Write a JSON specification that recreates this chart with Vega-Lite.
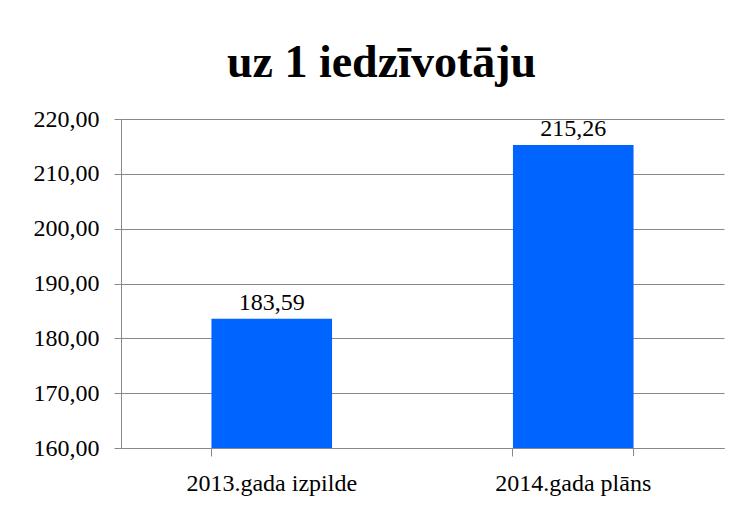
{
  "$schema": "https://vega.github.io/schema/vega-lite/v6.json",
  "autosize": "none",
  "width": 603,
  "height": 329,
  "padding": {"left": 121, "top": 119, "right": 17, "bottom": 57},
  "background": "white",
  "title": {
    "text": "uz 1 iedzīvotāju",
    "font": "Liberation Serif",
    "fontSize": 46,
    "fontWeight": "bold",
    "color": "black",
    "anchor": "middle",
    "frame": "group",
    "baseline": "alphabetic",
    "offset": -16,
    "dx": -41
  },
  "data": {
    "values": [
      {"kategorija": "2013.gada izpilde", "vertiba": 183.59},
      {"kategorija": "2014.gada plāns", "vertiba": 215.26}
    ]
  },
  "encoding": {
    "x": {
      "field": "kategorija",
      "type": "nominal",
      "sort": null,
      "scale": {"paddingInner": 0.6, "paddingOuter": 0.3},
      "axis": {
        "title": null,
        "labelAngle": 0,
        "bandPosition": 0,
        "ticks": true,
        "tickSize": 8,
        "tickColor": "#888888",
        "domainColor": "#888888",
        "labelFont": "Liberation Serif",
        "labelFontSize": 24,
        "labelColor": "black",
        "labelPadding": 34,
        "labelBaseline": "alphabetic",
        "grid": false
      }
    }
  },
  "layer": [
    {
      "mark": {"type": "bar", "color": "#0064FF"},
      "encoding": {
        "y": {
          "field": "vertiba",
          "type": "quantitative",
          "scale": {"domain": [160, 220], "zero": false, "nice": false},
          "axis": {
            "title": null,
            "values": [160, 170, 180, 190, 200, 210, 220],
            "format": ".2f",
            "grid": true,
            "gridColor": "#888888",
            "gridWidth": 1,
            "tickColor": "#888888",
            "tickSize": 7,
            "domainColor": "#888888",
            "labelFont": "Liberation Serif",
            "labelFontSize": 24,
            "labelColor": "black",
            "labelPadding": 15
          }
        },
        "y2": {"datum": 160}
      }
    },
    {
      "mark": {"type": "text", "font": "Liberation Serif", "fontSize": 24, "color": "black", "baseline": "alphabetic", "dy": -9},
      "encoding": {
        "y": {"field": "vertiba", "type": "quantitative"},
        "text": {"field": "vertiba", "type": "quantitative", "format": ".2f"}
      }
    },
    {
      "transform": [{"filter": "datum.kategorija === '2014.gada plāns'"}],
      "mark": {"type": "rule", "color": "#888888", "y2Offset": 8},
      "encoding": {
        "x": {"field": "kategorija", "type": "nominal", "sort": null, "bandPosition": 1},
        "y": {"datum": 160},
        "y2": {"datum": 160}
      }
    }
  ],
  "config": {
    "view": {"stroke": null},
    "locale": {"number": {"decimal": ",", "thousands": " ", "grouping": [3], "currency": ["", ""]}}
  }
}
